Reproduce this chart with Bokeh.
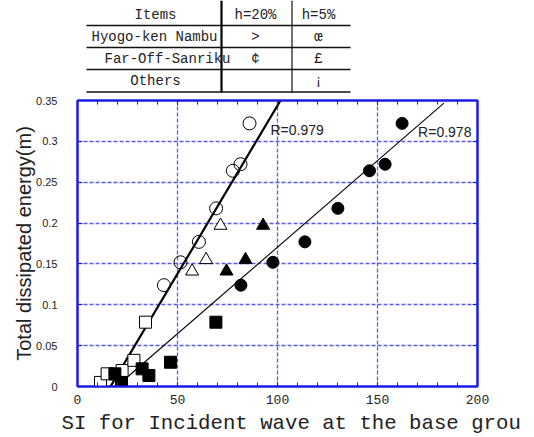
from bokeh.plotting import figure
from bokeh.models import (Range1d, LinearAxis, FixedTicker, Label, Title,
                          CustomLabelingPolicy)
from bokeh.layouts import column
from bokeh.embed import file_html
from bokeh.resources import INLINE
from bokeh.core.properties import value

# ---------------- data ----------------
# legend table (symbol glyphs as typed in the original symbol font)
table_items = ["Items", "Hyogo-ken Nambu", "Far-Off-Sanriku", "Others"]
table_h20 = ["h=20%", ">", "\u00a2", ""]
table_h5 = ["h=5%", "\u0153", "\u00a3", "\u00a1"]

# Hyogo-ken Nambu
hyogo_h20_x = [43.2, 51.5, 60.7, 69.3, 77.7, 81.5, 86.0]
hyogo_h20_y = [0.124, 0.152, 0.177, 0.218, 0.264, 0.272, 0.322]
hyogo_h5_x = [81.7, 97.7, 113.7, 130.2, 146.0, 153.8, 162.3]
hyogo_h5_y = [0.124, 0.152, 0.177, 0.218, 0.264, 0.272, 0.322]

# Far-Off-Sanriku
sanriku_h20_x = [57.3, 64.3, 71.5]
sanriku_h20_y = [0.141, 0.155, 0.197]
sanriku_h5_x = [74.5, 84.0, 92.8]
sanriku_h5_y = [0.141, 0.155, 0.197]

# Others
others_h20_x = [11.5, 14.8, 22.3, 28.2, 34.0]
others_h20_y = [0.005, 0.0155, 0.0196, 0.032, 0.0787]
others_h5_x = [18.7, 22.0, 32.3, 35.7, 46.5, 69.2]
others_h5_y = [0.0155, 0.005, 0.0216, 0.0135, 0.0297, 0.0787]

# regression lines (end points) and correlation coefficients
fit_h20_x = [16.5, 101.5]
fit_h20_y = [0.0, 0.35]
fit_h5_x = [19.5, 183.2]
fit_h5_y = [0.0, 0.3467]
r_h20 = "R=0.979"
r_h5 = "R=0.978"

x_ticks = [0, 50, 100, 150, 200]
x_minor = list(range(0, 201, 10))
y_ticks = [0, 0.05, 0.1, 0.15, 0.2, 0.25, 0.3, 0.35]
y_tick_labels = ["0", "0.05", "0.1", "0.15", "0.2", "0.25", "0.3", "0.35"]
x_title = "SI for Incident wave at the base grou"

BLUE = "#1c1ce6"
GRID = "#5a5aee"
MONO = "Liberation Mono"
SANS = "Liberation Sans"
INK = "#222222"

# ---------------- legend table ----------------
# the table's frame shares the scatter plot's horizontal extent (77..477 px),
# so its x range is expressed in page pixels
tab = figure(width=534, height=93, x_range=Range1d(77, 477), y_range=Range1d(93, 0),
             output_backend="svg", toolbar_location=None,
             x_axis_type=None, y_axis_type=None, min_border=0,
             min_border_left=77, min_border_right=57)
tab.grid.visible = False
tab.outline_line_color = None

row_y = [14, 36, 58, 80]
item_x = [155, 154, 167, 155]
h20_rows = [(y, t) for y, t in zip(row_y, table_h20) if t]
tab.text(x=item_x, y=row_y, text=table_items, text_font=value(MONO),
         text_font_size="14px", text_align="center", text_baseline="middle",
         text_color=INK)
tab.text(x=[255] * len(h20_rows), y=[r[0] for r in h20_rows], text=[r[1] for r in h20_rows],
         text_font=value(MONO), text_font_size="14px", text_align="center",
         text_baseline="middle", text_color=INK)
tab.text(x=[318] * 4, y=row_y, text=table_h5, text_font=value(MONO),
         text_font_size="14px", text_align="center", text_baseline="middle",
         text_color=INK)

# rules of the table
tab.segment(x0=[86] * 4, x1=[350] * 4, y0=[25, 47, 69, 91.5], y1=[25, 47, 69, 91.5],
            line_color="#111111", line_width=1.5)
tab.segment(x0=[221], x1=[221], y0=[0], y1=[92], line_color="#000000", line_width=2.2)
tab.segment(x0=[291.5], x1=[291.5], y0=[0], y1=[92], line_color="#111111", line_width=1.2)

# ---------------- scatter plot ----------------
p = figure(width=534, height=344, x_range=Range1d(0, 200), y_range=Range1d(0, 0.35),
           output_backend="svg", toolbar_location=None,
           min_border_left=77, min_border_right=57, min_border_top=7, min_border_bottom=51)

p.outline_line_color = BLUE
p.outline_line_width = 2

p.xaxis.ticker = FixedTicker(ticks=x_ticks, minor_ticks=x_minor)
p.yaxis.ticker = FixedTicker(ticks=y_ticks)
p.xgrid.ticker = FixedTicker(ticks=x_ticks)
p.ygrid.ticker = FixedTicker(ticks=y_ticks)

for g in (p.xgrid, p.ygrid):
    g.grid_line_color = GRID
    g.grid_line_width = 1.3
    g.grid_line_dash = "4 2"

for ax in (p.xaxis, p.yaxis):
    ax.axis_line_color = BLUE
    ax.axis_line_width = 2
    ax.major_tick_line_color = BLUE
    ax.minor_tick_line_color = BLUE
    ax.major_tick_in = 5
    ax.major_tick_out = 0
    ax.minor_tick_in = 4
    ax.minor_tick_out = 0

p.xaxis.major_label_text_font = MONO
p.xaxis.major_label_text_font_size = "13px"
p.xaxis.major_label_text_color = INK
p.xaxis.major_label_standoff = 8
p.xaxis.major_label_overrides = {v: str(v) for v in x_ticks}

p.yaxis.major_label_text_font = SANS
p.yaxis.major_label_text_font_size = "11px"
p.yaxis.major_label_text_color = INK
p.yaxis.major_label_standoff = 20
p.yaxis.major_label_overrides = dict(zip(y_ticks, y_tick_labels))
p.yaxis.axis_label = "Total dissipated energy(m)"
p.yaxis.axis_label_text_font = SANS
p.yaxis.axis_label_text_font_size = "20px"
p.yaxis.axis_label_text_font_style = "normal"
p.yaxis.axis_label_text_color = INK
p.yaxis.axis_label_standoff = -2

# mirrored tick marks on top and right, without labels
no_labels = CustomLabelingPolicy(code="return []")
top = LinearAxis(ticker=FixedTicker(ticks=x_ticks, minor_ticks=x_minor),
                 major_label_policy=no_labels, major_label_standoff=0,
                 major_label_text_font_size="1px",
                 axis_line_color=BLUE, axis_line_width=2,
                 major_tick_line_color=BLUE, minor_tick_line_color=BLUE,
                 major_tick_in=5, major_tick_out=0, minor_tick_in=4, minor_tick_out=0)
right = LinearAxis(ticker=FixedTicker(ticks=y_ticks),
                   major_label_policy=no_labels, major_label_standoff=0,
                   major_label_text_font_size="1px",
                   axis_line_color=BLUE, axis_line_width=2,
                   major_tick_line_color=BLUE, minor_tick_line_color=None,
                   major_tick_in=5, major_tick_out=0)
p.add_layout(top, "above")
p.add_layout(right, "right")

# regression lines
p.line(fit_h20_x, fit_h20_y, line_color="black", line_width=2.2)
p.line(fit_h5_x, fit_h5_y, line_color="black", line_width=1.1)

# markers: open = h=20%, filled = h=5%
p.scatter(others_h20_x, others_h20_y, marker="square", size=12,
          fill_color="white", line_color="black", line_width=1)
p.scatter(others_h5_x, others_h5_y, marker="square", size=12,
          fill_color="black", line_color="black")
p.scatter(hyogo_h20_x, hyogo_h20_y, marker="circle", size=13,
          fill_color=None, line_color="black", line_width=1)
p.scatter(hyogo_h5_x, hyogo_h5_y, marker="circle", size=12,
          fill_color="black", line_color="black")
p.scatter(sanriku_h20_x, sanriku_h20_y, marker="triangle", size=13,
          fill_color="white", line_color="black", line_width=1)
p.scatter(sanriku_h5_x, sanriku_h5_y, marker="triangle", size=13,
          fill_color="black", line_color="black")

p.add_layout(Label(x=96.5, y=0.3145, text=r_h20, text_font=SANS, text_font_size="14px",
                   text_baseline="middle", text_color=INK))
p.add_layout(Label(x=170.3, y=0.312, text=r_h5, text_font=SANS, text_font_size="14px",
                   text_baseline="middle", text_color=INK))

# x-axis title, left-aligned just left of the frame
p.add_layout(Title(text=x_title, align="left", offset=-16, standoff=6,
                   text_font=MONO, text_font_size="20.7px", text_font_style="normal",
                   text_color=INK), "below")

layout = column(tab, p, spacing=0)
open("out.html", "w").write(file_html(layout, INLINE))
